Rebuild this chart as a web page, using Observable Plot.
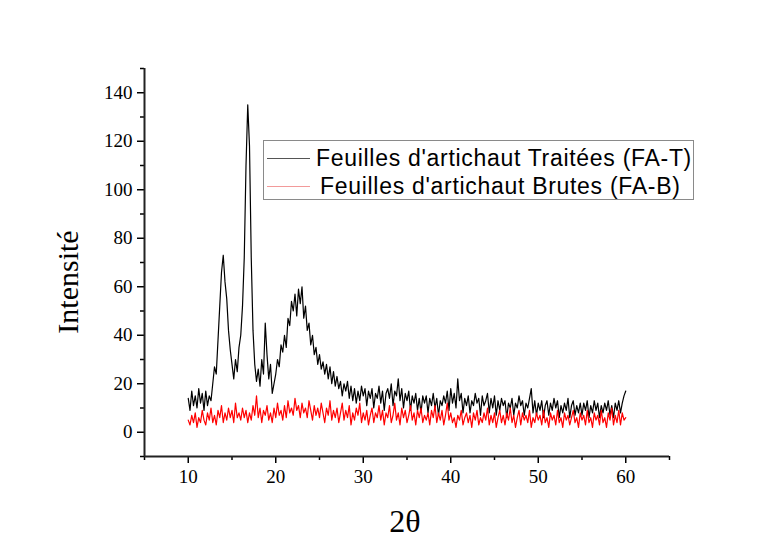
<!DOCTYPE html>
<html>
<head>
<meta charset="utf-8">
<script src="https://cdn.jsdelivr.net/npm/d3@7"></script>
<script src="https://cdn.jsdelivr.net/npm/@observablehq/plot@0.6"></script>
<style>
  html, body { margin: 0; padding: 0; background: #fff; }
  #wrap { position: relative; width: 758px; height: 539px; }
  #legend {
    position: absolute; left: 263px; top: 140px; width: 429px; height: 58px;
    border: 1px solid #8a8a8a; background: #fff;
    font-family: "Liberation Sans", Arial, sans-serif; font-size: 23px; letter-spacing: 0.7px; color: #000;
  }
  .row { position: absolute; left: 0; height: 28px; display: flex; align-items: center; white-space: nowrap; }
  .sw { display: inline-block; width: 43px; height: 0; margin-left: 3px; margin-right: 6px; }
</style>
</head>
<body>
<div id="wrap"></div>
<script>
// 2θ sampling grid
const xStart = 10;
const xStep = 0.2;

// FA-T (Feuilles d'artichaut Traitées) intensity
const faT = [
  14, 9, 17, 11, 15,   10, 18, 12, 16, 9,   17, 11, 15, 13, 20,
  27, 24, 38, 52, 66,  73, 62, 55, 42, 34,  28, 22, 30, 25, 35,
  40, 52, 72, 110, 135, 118, 72, 42, 28, 21, 26, 19, 30, 24, 45,
  32, 22, 28, 16, 20,  24, 30, 27, 36, 33,  40, 35, 47, 44, 54,
  50, 57, 48, 59, 53,  60, 47, 52, 42, 45,  36, 40, 32, 35, 28,
  32, 26, 29, 24, 28,  22, 27, 20, 25, 19,  23, 18, 21, 15, 20,
  17, 21, 14, 19, 13,  18, 12, 17, 13, 19,  15, 18, 11, 17, 14,
  18, 10, 16, 14, 19,  12, 17, 9, 16, 18,   14, 20, 11, 17, 15,
  22, 13, 18, 10, 16,  13, 17, 9, 15, 12,   16, 9, 14, 8, 15,
  12, 15, 8, 14, 11,   16, 10, 14, 7, 13,   11, 15, 12, 17, 9,
  18, 12, 16, 10, 22,  13, 16, 8, 14, 11,   15, 8, 13, 11, 16,
  12, 14, 7, 15, 11,   13, 16, 8, 14, 10,   15, 7, 13, 9, 14,
  11, 13, 6, 12, 10,   14, 7, 12, 10, 15,   11, 13, 7, 12, 10,
  14, 18, 8, 13, 7,    12, 9, 13, 6, 11,    13, 7, 12, 9, 14,
  10, 13, 6, 11, 8,    12, 9, 14, 6, 11,    13, 7, 11, 8, 12,
  7, 12, 9, 13, 6,     11, 8, 13, 9, 12,    6, 11, 8, 12, 9,
  13, 7, 11, 6, 12,    9, 13, 8, 12, 15,
  17
];

// FA-B (Feuilles d'artichaut Brutes) intensity
const faB = [
  5, 3, 7, 4, 8,   2, 6, 4, 9, 5,   3, 8, 5, 10, 4,
  7, 3, 9, 6, 11,  4, 8, 5, 10, 6,  9, 4, 12, 6, 8,
  5, 10, 6, 9, 4,  8, 5, 11, 7, 15, 6, 10, 4, 9, 7,
  11, 5, 8, 4, 10, 6, 12, 7, 9, 5,  11, 6, 13, 8, 10,
  7, 14, 9, 11, 6, 12, 8, 10, 6, 13, 9, 5, 11, 7, 10,
  6, 12, 8, 4, 10, 7, 13, 5, 9, 6,  10, 4, 8, 12, 5,
  9, 6, 11, 3, 8,  5, 10, 7, 12, 4, 8, 5, 9, 3, 7,
  10, 4, 8, 6, 11, 5, 9, 3, 8, 6,   11, 4, 7, 12, 5,
  8, 3, 10, 6, 9,  4, 7, 11, 5, 8,  3, 9, 6, 10, 4,
  7, 5, 8, 3, 9,   6, 11, 4, 8, 5,  9, 3, 7, 12, 5,
  8, 4, 6, 2, 7,   5, 9, 3, 6, 8,   4, 7, 2, 8, 5,
  9, 3, 6, 4, 8,   5, 10, 3, 7, 4,  8, 2, 6, 9, 4,
  7, 3, 8, 5, 10,  4, 7, 2, 6, 9,   3, 8, 5, 7, 4,
  9, 2, 6, 4, 8,   5, 7, 3, 9, 4,   6, 2, 8, 5, 7,
  3, 9, 4, 6, 2,   8, 5, 7, 3, 6,   9, 4, 6, 2, 8,
  5, 7, 3, 9, 4,   6, 2, 8, 5, 7,   3, 9, 4, 6, 2,
  8, 5, 10, 3, 7,  4, 9, 3, 8, 5,
  6
];

const xMajor = [10, 20, 30, 40, 50, 60];
const xMinor = [5, 15, 25, 35, 45, 55, 65];
const yMajor = [0, 20, 40, 60, 80, 100, 120, 140];
const yMinor = [-10, 10, 30, 50, 70, 90, 110, 130, 150];

const labelT = "Feuilles d'artichaut Traitées (FA-T)";
const labelB = "Feuilles d'artichaut Brutes (FA-B)";

const rowsT = faT.map((v, i) => ({x: xStart + i * xStep, y: v}));
const rowsB = faB.map((v, i) => ({x: xStart + i * xStep, y: v}));

const serif = "'Liberation Serif', 'Times New Roman', serif";

const chart = Plot.plot({
  width: 758,
  height: 539,
  marginLeft: 144,
  marginRight: 89,
  marginTop: 68,
  marginBottom: 83,
  style: {background: "#fff", fontFamily: serif},
  x: {domain: [5, 65]},
  y: {domain: [-10, 150]},
  marks: [
    Plot.line(rowsT, {x: "x", y: "y", stroke: "#000", strokeWidth: 1.2}),
    Plot.line(rowsB, {x: "x", y: "y", stroke: "#ff0000", strokeWidth: 1.2}),
    Plot.axisX({ticks: xMajor, tickSize: 7, tickPadding: 6, fontSize: 19, strokeWidth: 1.5, label: null, tickFormat: d => String(d)}),
    Plot.axisX({ticks: xMinor, tickSize: 4, text: null, strokeWidth: 1.5, label: null}),
    Plot.axisY({ticks: yMajor, tickSize: 7, tickPadding: 5, fontSize: 19, strokeWidth: 1.5, label: null, tickFormat: d => String(d)}),
    Plot.axisY({ticks: yMinor, tickSize: 4, text: null, strokeWidth: 1.5, label: null}),
    Plot.ruleY([-10], {stroke: "#222", strokeWidth: 2}),
    Plot.ruleX([5], {stroke: "#222", strokeWidth: 2})
  ]
});

const wrap = document.getElementById("wrap");
wrap.appendChild(chart);

// Axis titles
const svg = d3.select(chart);
svg.append("text")
  .attr("x", 405).attr("y", 532)
  .attr("text-anchor", "middle")
  .style("font-family", serif).style("font-size", "32px")
  .text("2θ");
svg.append("text")
  .attr("transform", "translate(78,282) rotate(-90)")
  .attr("text-anchor", "middle")
  .style("font-family", serif).style("font-size", "30px")
  .text("Intensité");

// Legend
const legend = document.createElement("div");
legend.id = "legend";
legend.innerHTML =
  `<div class="row" style="top:3px"><span class="sw" style="border-top:1.5px solid #555"></span>${labelT}</div>` +
  `<div class="row" style="top:31px"><span class="sw" style="border-top:1.5px solid #f29a9a"></span><span style="margin-left:4px">${labelB}</span></div>`;
wrap.appendChild(legend);
</script>
</body>
</html>
